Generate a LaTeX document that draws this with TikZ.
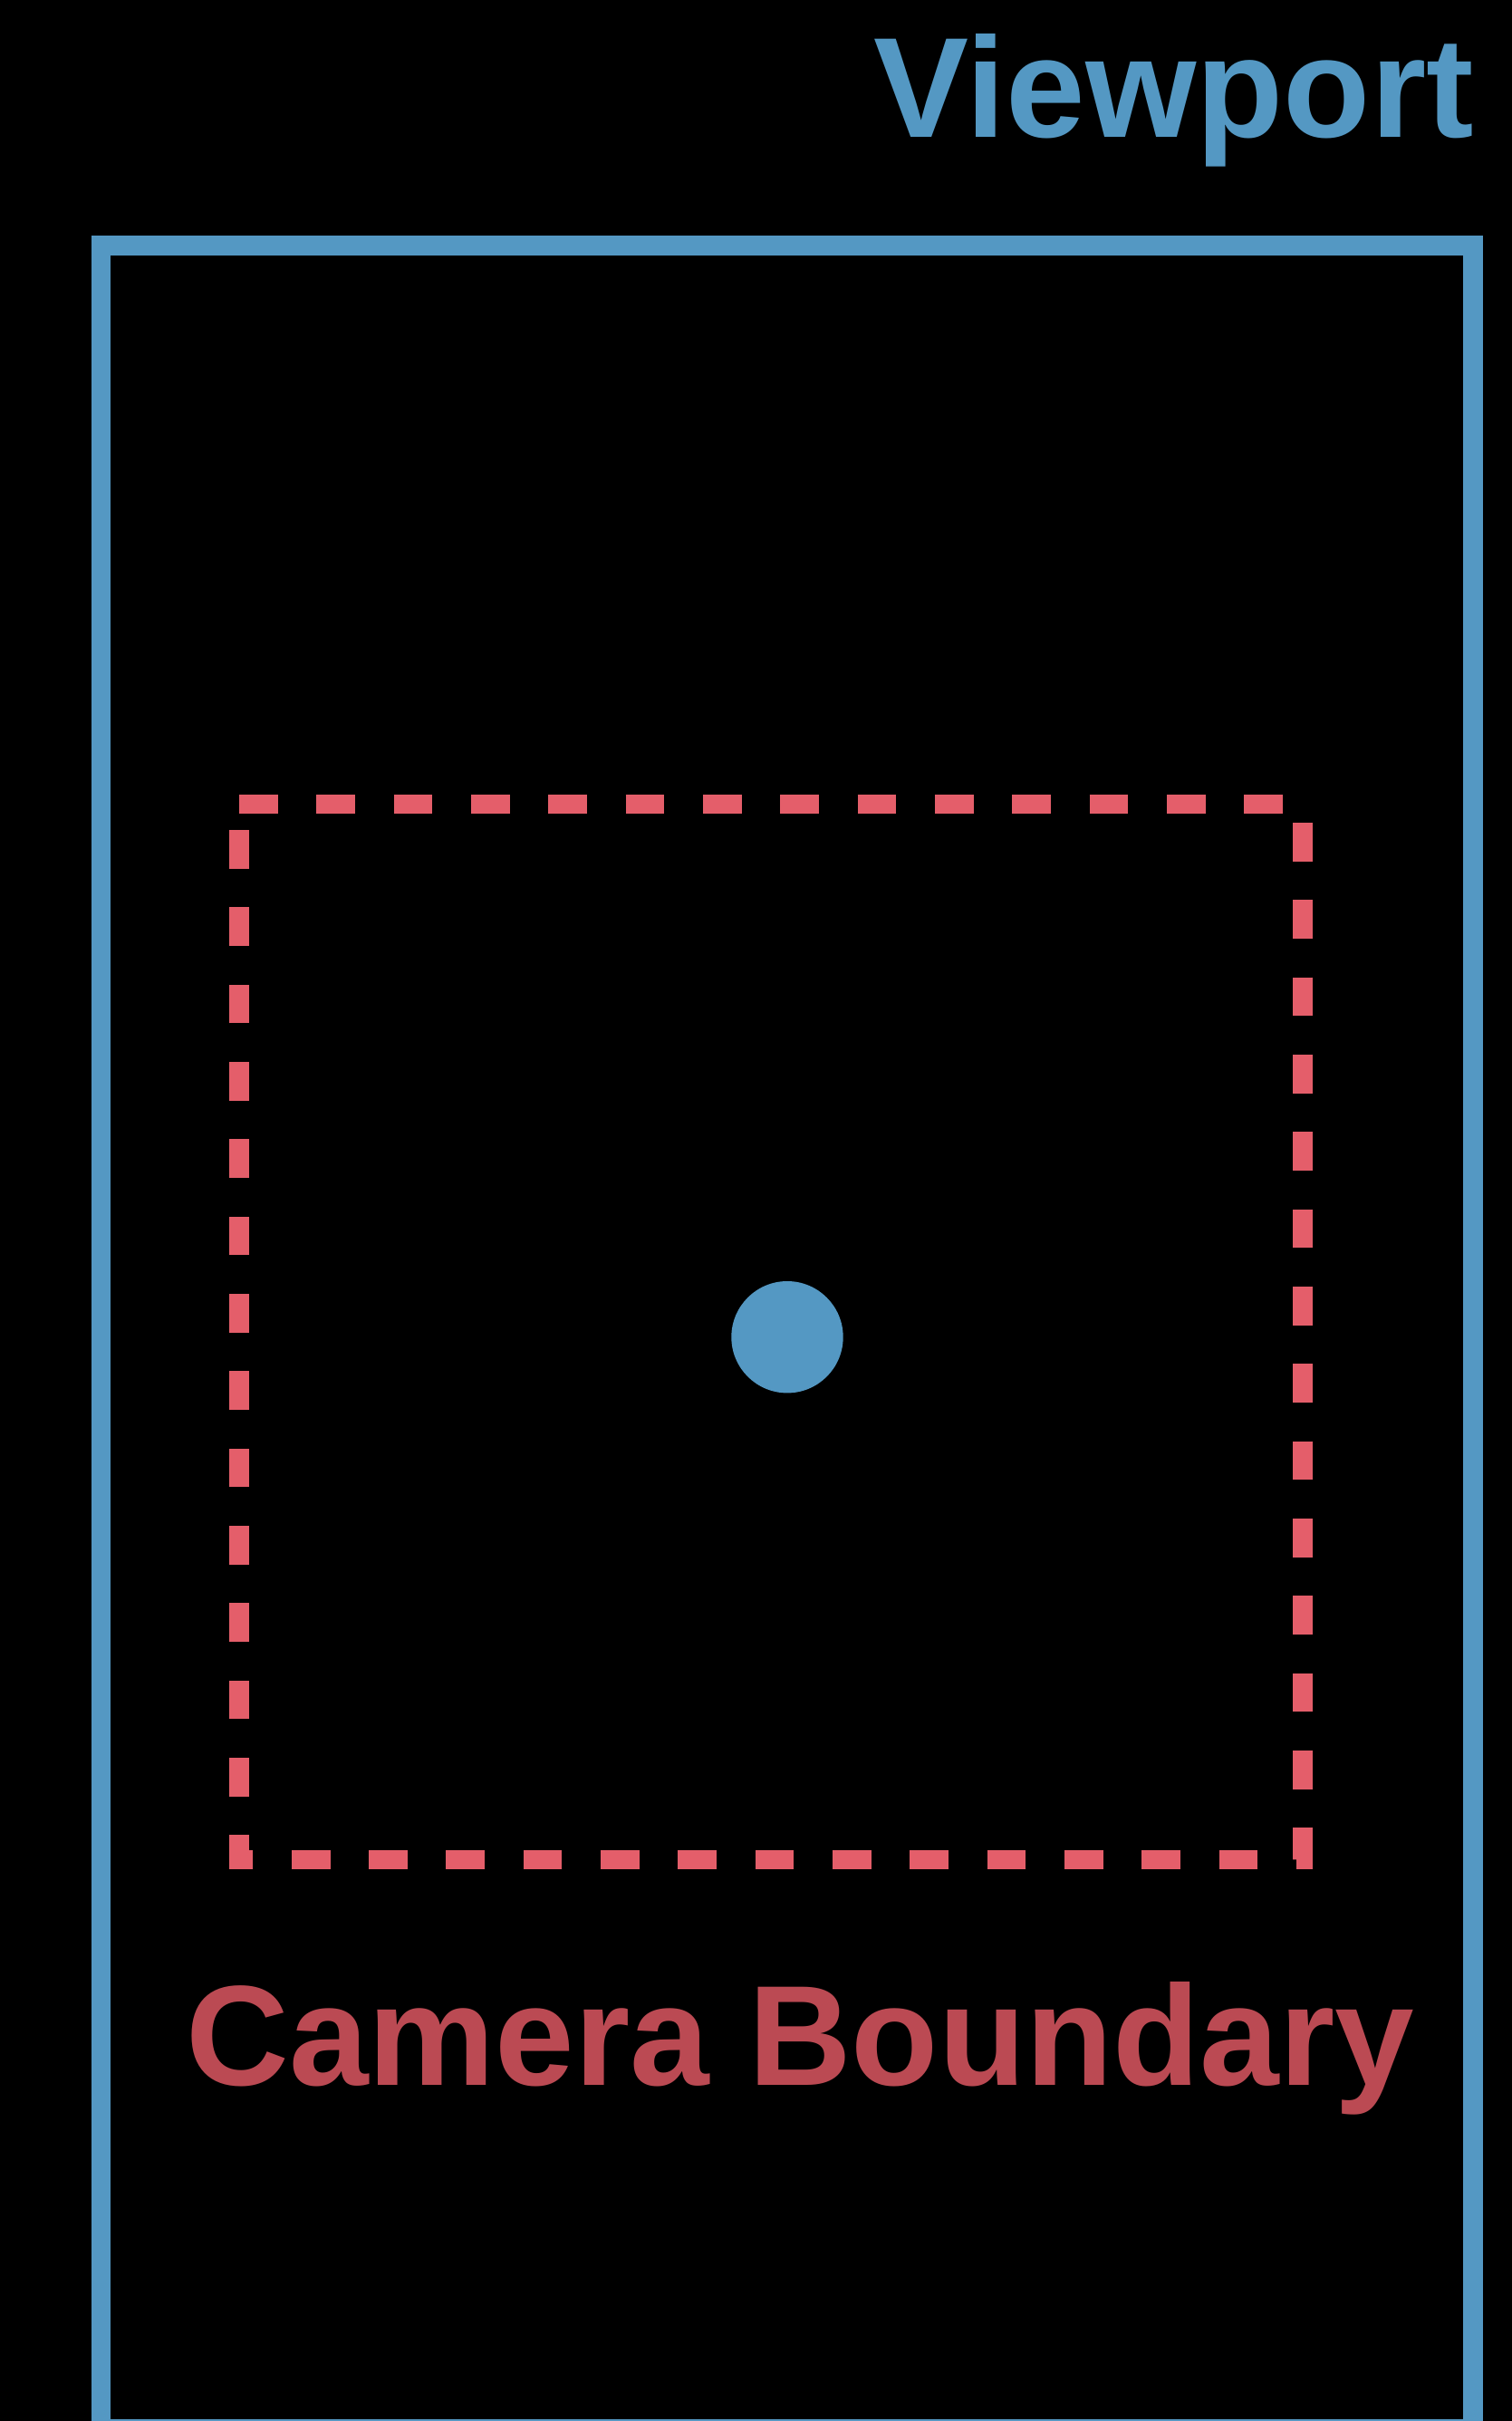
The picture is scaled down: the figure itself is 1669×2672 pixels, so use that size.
\documentclass[tikz,border=0pt]{standalone}
\usepackage{fontspec}
\setmainfont{Liberation Sans}
\definecolor{vpblue}{HTML}{5498C3}
\definecolor{dashred}{HTML}{E45E6A}
\definecolor{txtred}{HTML}{BB4A53}
\tikzset{
  viewportbox/.style={draw=vpblue, line width=10.6pt},
  boundarybox/.style={draw=dashred, line width=10.67pt, dash pattern=on 21.33pt off 21.33pt, line cap=butt, line join=miter},
  bigtext/.style={inner sep=0pt, font=\bfseries\fontsize{78.7}{80}\selectfont},
  dotstyle/.style={circle, fill=vpblue, inner sep=0pt, minimum size=61.7pt}
}
\begin{document}
\begin{tikzpicture}[x=0.5pt,y=-0.5pt]
\fill[black] (0,0) rectangle (1669,2672);
\useasboundingbox (0,0) rectangle (1669,2672);
\begin{scope}
\clip (0,0) rectangle (1669,2672);
\coordinate (vtl) at (111.7,271);
\coordinate (vbr) at (1626,2681);
\draw[viewportbox] (vtl) rectangle (vbr);
\end{scope}
\coordinate (ctl) at (264,887.5);
\coordinate (ctr) at (1438,887.5);
\coordinate (cbr) at (1438,2052.8);
\coordinate (cbl) at (264,2052.8);
\draw[boundarybox] (ctl) -- (ctr) -- (cbr) -- (cbl) -- cycle;
\node[dotstyle] (dot) at (869,1475.7) {};
\node[bigtext, text=vpblue, anchor=base east] (vp) at (1627,151.7) {Viewport};
\node[bigtext, text=txtred, anchor=base west] (cb) at (205,2301) {Camera Boundary};
\end{tikzpicture}
\end{document}
